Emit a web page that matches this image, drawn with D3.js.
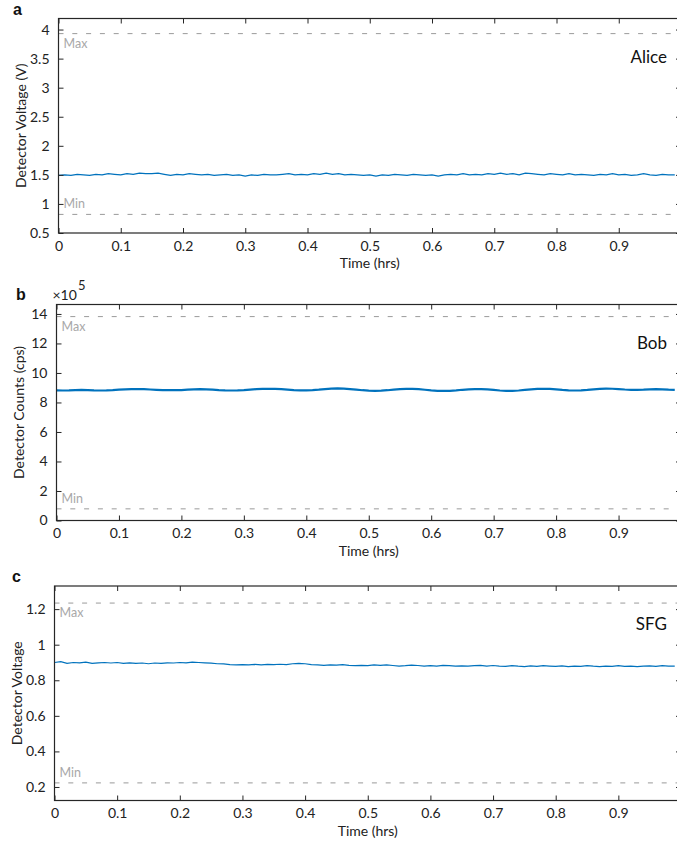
<!DOCTYPE html>
<html>
<head>
<meta charset="utf-8">
<script src="https://cdn.jsdelivr.net/npm/d3@7"></script>
<style>
  body { margin: 0; background: #fff; }
  svg { display: block; font-family: Lato, "Noto Sans", sans-serif; }
</style>
</head>
<body>
<div id="chart"></div>
<script>
// sampling step of the traces (hrs)
const timeStep = 0.01;

// a: Alice detector voltage (V)
const aliceVolts = [
  1.49,1.50,1.49,1.51,1.50,1.49,1.51,1.50,1.52,1.51,
  1.50,1.52,1.51,1.53,1.52,1.52,1.53,1.51,1.49,1.51,
  1.50,1.52,1.51,1.50,1.51,1.49,1.50,1.51,1.49,1.50,
  1.48,1.50,1.49,1.51,1.50,1.50,1.51,1.52,1.50,1.51,
  1.50,1.52,1.51,1.53,1.51,1.52,1.50,1.51,1.50,1.49,
  1.50,1.48,1.50,1.49,1.51,1.50,1.49,1.51,1.50,1.49,
  1.50,1.48,1.50,1.51,1.50,1.52,1.50,1.51,1.50,1.52,
  1.51,1.53,1.51,1.52,1.50,1.53,1.52,1.51,1.50,1.52,
  1.51,1.50,1.52,1.50,1.51,1.50,1.49,1.51,1.50,1.52,
  1.50,1.51,1.49,1.50,1.52,1.50,1.49,1.51,1.50,1.50
];
// b: Bob detector counts (x10^5 cps)
const bobCounts = [
  8.82,8.81,8.82,8.84,8.85,8.84,8.82,8.81,8.82,8.84,
  8.87,8.89,8.90,8.91,8.90,8.88,8.86,8.84,8.83,8.83,
  8.84,8.87,8.89,8.90,8.89,8.87,8.84,8.82,8.81,8.82,
  8.84,8.87,8.90,8.92,8.93,8.92,8.90,8.87,8.84,8.82,
  8.82,8.84,8.87,8.91,8.94,8.95,8.94,8.91,8.87,8.83,
  8.80,8.79,8.80,8.83,8.87,8.90,8.92,8.92,8.90,8.86,
  8.82,8.79,8.78,8.79,8.82,8.86,8.89,8.91,8.91,8.89,
  8.85,8.81,8.79,8.79,8.81,8.85,8.89,8.92,8.93,8.92,
  8.89,8.85,8.82,8.81,8.82,8.85,8.89,8.92,8.94,8.93,
  8.91,8.88,8.86,8.86,8.87,8.89,8.90,8.89,8.87,8.86
];
// c: SFG detector voltage
const sfgVolts = [
  0.900,0.905,0.895,0.900,0.898,0.902,0.895,0.898,0.900,0.897,
  0.900,0.895,0.898,0.895,0.897,0.893,0.897,0.895,0.898,0.897,
  0.900,0.898,0.902,0.900,0.898,0.896,0.893,0.892,0.888,0.886,
  0.888,0.887,0.889,0.886,0.889,0.888,0.890,0.888,0.893,0.895,
  0.893,0.888,0.886,0.884,0.887,0.885,0.888,0.884,0.882,0.884,
  0.882,0.886,0.884,0.886,0.883,0.880,0.882,0.885,0.883,0.880,
  0.882,0.880,0.884,0.882,0.880,0.881,0.879,0.882,0.884,0.880,
  0.883,0.880,0.878,0.882,0.879,0.877,0.881,0.878,0.882,0.880,
  0.878,0.881,0.877,0.880,0.878,0.882,0.879,0.877,0.880,0.878,
  0.882,0.878,0.880,0.877,0.879,0.881,0.878,0.882,0.879,0.880
];

// [min, max] limit lines
const aliceLimits = [0.82, 3.93];
const bobLimits = [0.79, 13.82];
const sfgLimits = [0.223, 1.234];

// axis ranges and ticks
const timeTicks = [0, 0.1, 0.2, 0.3, 0.4, 0.5, 0.6, 0.7, 0.8, 0.9, 1];
const aliceDomain = [0.5, 4.19];
const aliceTicks = [0.5, 1, 1.5, 2, 2.5, 3, 3.5, 4];
const bobDomain = [0, 14.64];
const bobTicks = [0, 2, 4, 6, 8, 10, 12, 14];
const sfgDomain = [0.124, 1.33];
const sfgTicks = [0.2, 0.4, 0.6, 0.8, 1, 1.2];

const W = 677, H = 845;
const blue = '#0072bd';
const axisCol = '#262626';

const svg = d3.select('#chart').append('svg')
  .attr('width', W).attr('height', H);

const panels = [
  {letter: 'a', lx: 13, ly: 15, name: 'Alice', values: aliceVolts, limits: aliceLimits, domain: aliceDomain, ticks: aliceTicks,
   ylabel: 'Detector Voltage (V)', left: 58.5, right: 681, top: 18.5, bottom: 233, lw: 1.2, exp: false},
  {letter: 'b', lx: 16, ly: 300, name: 'Bob', values: bobCounts, limits: bobLimits, domain: bobDomain, ticks: bobTicks,
   ylabel: 'Detector Counts (cps)', left: 56.5, right: 681, top: 304.5, bottom: 520.5, lw: 2.2, exp: true},
  {letter: 'c', lx: 12, ly: 582, name: 'SFG', values: sfgVolts, limits: sfgLimits, domain: sfgDomain, ticks: sfgTicks,
   ylabel: 'Detector Voltage', left: 54.5, right: 681, top: 586, bottom: 800.5, lw: 1.2, exp: false}
];

panels.forEach(function(p) {
  let g = svg.append('g');
  let x = d3.scaleLinear().domain([0, 1]).range([p.left, p.right]);
  let y = d3.scaleLinear().domain(p.domain).range([p.bottom, p.top]);

  // limit lines
  g.selectAll('.limit')
    .data(p.limits).enter().append('line')
    .attr('x1', p.left).attr('x2', p.right)
    .attr('y1', d => y(d)).attr('y2', d => y(d))
    .style('stroke', '#9a9a9a')
    .style('stroke-width', 1)
    .style('stroke-dasharray', '5,8.8');

  g.append('text').text('Max')
    .attr('x', p.left + 5).attr('y', y(p.limits[1]) + 14)
    .style('font-size', '12.5px').style('fill', '#a8a8a8');
  g.append('text').text('Min')
    .attr('x', p.left + 5).attr('y', y(p.limits[0]) - 6)
    .style('font-size', '12.5px').style('fill', '#a8a8a8');

  // trace
  let line = d3.line()
    .x((d, i) => x(i * timeStep))
    .y(d => y(d));
  g.append('path')
    .datum(p.values)
    .attr('d', line)
    .style('fill', 'none')
    .style('stroke', blue)
    .style('stroke-width', p.lw);

  // axes, MATLAB style inward ticks on all sides
  let fmt = d => String(d);
  let bottomAx = g.append('g').attr('transform', 'translate(0,' + p.bottom + ')')
    .call(d3.axisBottom(x).tickValues(timeTicks).tickSize(-5).tickPadding(8).tickFormat(fmt));
  let topAx = g.append('g').attr('transform', 'translate(0,' + p.top + ')')
    .call(d3.axisTop(x).tickValues(timeTicks).tickSize(-5).tickFormat(''));
  let leftAx = g.append('g').attr('transform', 'translate(' + p.left + ',0)')
    .call(d3.axisLeft(y).tickValues(p.ticks).tickSize(-5).tickPadding(9).tickFormat(fmt));
  let rightAx = g.append('g').attr('transform', 'translate(' + p.right + ',0)')
    .call(d3.axisRight(y).tickValues(p.ticks).tickSize(-5).tickFormat(''));

  [bottomAx, topAx, leftAx, rightAx].forEach(function(ax) {
    ax.select('.domain').attr('d', null);
    ax.selectAll('.tick line').style('stroke', axisCol).style('stroke-width', 1);
    ax.selectAll('.tick text').style('fill', '#222').style('font-size', '14px')
      .style('font-family', 'Lato, sans-serif');
  });
  // full box edges
  g.append('rect')
    .attr('x', p.left).attr('y', p.top)
    .attr('width', p.right - p.left).attr('height', p.bottom - p.top)
    .style('fill', 'none').style('stroke', axisCol).style('stroke-width', 1.2);

  // labels
  g.append('text').text('Time (hrs)')
    .attr('x', x(0.5)).attr('y', p.bottom + 35)
    .attr('text-anchor', 'middle')
    .style('font-size', '14px').style('fill', '#222');
  g.append('text').text(p.ylabel)
    .attr('transform', 'translate(' + (p.left - 33) + ',' + ((p.top + p.bottom) / 2) + ') rotate(-90)')
    .attr('text-anchor', 'middle')
    .style('font-size', '14px').style('fill', '#222');
  g.append('text').text(p.name)
    .attr('x', 667).attr('y', p.top + 44)
    .attr('text-anchor', 'end')
    .style('font-size', '17px').style('fill', '#111');
  g.append('text').text(p.letter)
    .attr('x', p.lx).attr('y', p.ly)
    .style('font-family', '"Liberation Sans", sans-serif')
    .style('font-size', '16px').style('font-weight', 'bold').style('fill', '#111');

  if (p.exp) {
    let t = g.append('text')
      .attr('x', p.left - 4).attr('y', p.top - 5)
      .style('font-size', '14px').style('fill', '#222');
    t.append('tspan').text('\u00d710');
    t.append('tspan').text('5').attr('dy', -10).attr('dx', 1).style('font-size', '13px');
  }
});
</script>
</body>
</html>
